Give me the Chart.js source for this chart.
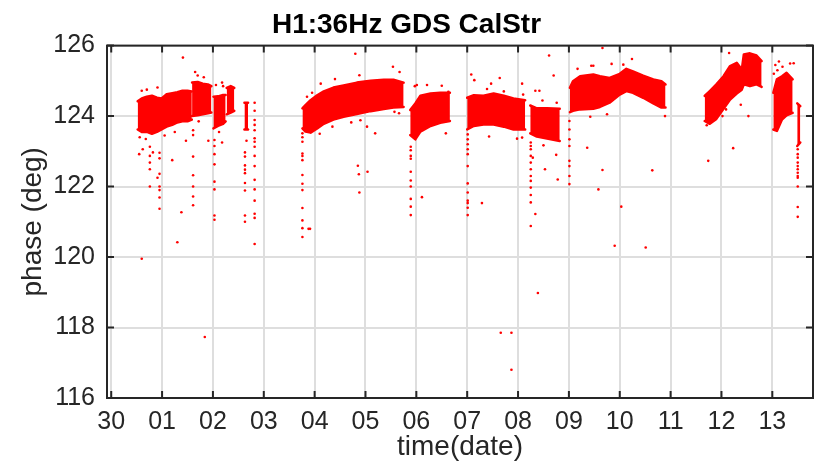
<!DOCTYPE html>
<html>
<head>
<meta charset="utf-8">
<title>H1:36Hz GDS CalStr</title>
<script src="https://cdn.jsdelivr.net/npm/chart.js@4.4.1/dist/chart.umd.min.js"></script>
<style>
  html, body { margin: 0; padding: 0; background: #fff; }
  #wrap { width: 817px; height: 466px; }
</style>
</head>
<body>
<div id="wrap"><canvas id="chart" width="817" height="466"></canvas></div>
<script>
// days counted from 30 Sep 00:00 (0 = "30", 1 = "01", ...)
const dayLabels = ['30', '01', '02', '03', '04', '05', '06', '07', '08', '09', '10', '11', '12', '13'];
const yTicks = [116, 118, 120, 122, 124, 126];

// dense stretches of data: [day, lower edge, upper edge] (deg)
const band1 = [[0.52, 123.62, 124.42], [0.60, 123.55, 124.50], [0.70, 123.55, 124.55], [0.80, 123.50, 124.58],
  [0.90, 123.55, 124.52], [0.99, 123.62, 124.50], [1.09, 123.70, 124.62], [1.20, 123.75, 124.65],
  [1.30, 123.82, 124.68], [1.40, 123.85, 124.72], [1.50, 123.85, 124.72], [1.585, 123.90, 124.70]];
const band2 = [[1.59, 124.00, 124.95], [1.70, 124.02, 124.97], [1.80, 124.05, 124.92], [1.90, 124.08, 124.90], [1.97, 124.10, 124.85]];
const band3 = [[2.01, 123.65, 124.55], [2.10, 123.72, 124.56], [2.20, 123.78, 124.60], [2.25, 123.85, 124.60]];
const band4 = [[2.27, 124.05, 124.80], [2.35, 124.10, 124.85], [2.42, 124.15, 124.80]];
const band5 = [[2.62, 123.62, 124.38], [2.69, 123.62, 124.38]];
const band7 = [[3.76, 123.65, 124.22], [3.82, 123.56, 124.31], [3.92, 123.53, 124.45], [4.05, 123.65, 124.59],
  [4.18, 123.78, 124.70], [4.37, 123.90, 124.81], [4.57, 123.98, 124.87], [4.83, 124.06, 124.95],
  [5.10, 124.14, 125.00], [5.36, 124.20, 125.03], [5.55, 124.24, 125.03], [5.75, 124.26, 124.95]];
const band8 = [[5.88, 123.46, 124.17], [5.98, 123.34, 124.36], [6.08, 123.56, 124.58], [6.28, 123.72, 124.64],
  [6.47, 123.81, 124.66], [6.66, 123.86, 124.66]];
const band9 = [[7.00, 123.62, 124.52], [7.13, 123.72, 124.59], [7.32, 123.76, 124.58], [7.52, 123.76, 124.64],
  [7.72, 123.70, 124.58], [7.91, 123.62, 124.50], [8.14, 123.62, 124.45]];
const band10 = [[8.24, 123.51, 124.30], [8.37, 123.42, 124.22], [8.57, 123.36, 124.22], [8.82, 123.29, 124.21]];
const band11 = [[9.02, 124.11, 124.80], [9.08, 124.15, 124.99], [9.22, 124.19, 125.13], [9.48, 124.21, 125.18],
  [9.61, 124.26, 125.13], [9.80, 124.38, 125.08], [10.00, 124.61, 125.20], [10.13, 124.71, 125.34],
  [10.26, 124.66, 125.27], [10.46, 124.52, 125.15], [10.66, 124.36, 125.04], [10.82, 124.24, 124.99], [10.90, 124.24, 124.90]];
const band12 = [[11.67, 123.86, 124.57], [11.77, 123.78, 124.71], [11.90, 123.92, 124.90], [12.04, 124.21, 125.13],
  [12.17, 124.47, 125.42], [12.30, 124.64, 125.51], [12.40, 124.75, 125.32], [12.44, 124.90, 125.75],
  [12.56, 124.85, 125.78], [12.69, 124.90, 125.72], [12.79, 124.83, 125.56]];
const band13 = [[13.02, 123.62, 124.66], [13.09, 123.58, 125.04], [13.19, 123.90, 125.13], [13.28, 124.02, 125.23], [13.40, 124.09, 125.04]];
const band14 = [[13.49, 123.15, 124.36], [13.55, 123.25, 124.28]];

// isolated samples: [day, phase]
const scatterA = [[0.60, 119.95], [0.55, 122.92], [0.62, 123.06], [0.76, 123.13], [0.76, 122.87], [0.76, 122.68],
  [0.76, 122.49], [0.76, 122.00], [0.82, 122.97], [0.91, 122.25], [0.95, 122.96], [0.95, 122.80], [0.95, 122.36],
  [0.95, 122.00], [0.95, 121.90], [0.95, 121.69], [0.95, 121.37], [1.20, 122.75], [1.38, 121.27], [1.30, 120.42],
  [1.41, 125.66], [1.47, 123.30], [1.61, 123.60], [1.61, 123.46], [1.61, 122.85], [1.61, 122.32], [1.61, 122.00],
  [1.61, 121.72], [1.61, 121.47], [1.84, 117.73], [1.91, 123.30], [2.03, 123.32], [2.03, 123.15], [2.03, 122.92],
  [2.03, 122.63], [2.03, 122.14], [2.03, 121.92], [2.03, 121.18], [2.03, 121.06], [2.18, 123.25], [2.06, 124.88],
  [2.18, 124.95], [2.63, 122.97], [2.63, 122.85], [2.63, 122.60], [2.63, 122.48], [2.63, 122.38], [2.63, 122.10],
  [2.63, 121.89], [2.63, 121.18], [2.63, 121.00], [2.66, 123.30], [2.82, 124.38], [2.82, 124.15], [2.82, 123.89],
  [2.82, 123.75], [2.82, 123.60], [2.82, 123.37], [2.82, 123.27], [2.82, 123.13], [2.82, 122.87], [2.82, 122.58],
  [2.82, 122.19], [2.82, 121.92], [2.82, 121.60], [2.82, 121.23], [2.82, 121.11], [2.82, 120.37], [0.60, 124.72],
  [0.70, 124.75], [0.91, 124.81], [1.65, 125.25], [1.70, 125.15], [1.82, 125.10], [2.20, 124.85],
  [0.56, 123.40], [0.68, 123.35], [1.05, 123.45], [1.25, 123.55], [1.72, 123.85], [2.12, 123.55]];
const scatterB = [[3.76, 123.51], [3.76, 123.40], [3.76, 123.27], [3.76, 122.94], [3.76, 122.87], [3.76, 122.75],
  [3.76, 122.33], [3.76, 122.08], [3.76, 121.90], [3.76, 121.39], [3.76, 121.04], [3.76, 120.82], [3.76, 120.57],
  [3.88, 120.80], [3.91, 120.80], [3.95, 124.66], [4.80, 125.77], [4.88, 125.16], [4.85, 122.59], [4.87, 122.35],
  [5.04, 122.42], [4.88, 121.83], [5.19, 123.51], [5.03, 123.70], [5.54, 125.40], [5.67, 125.25], [5.57, 124.12],
  [5.66, 124.08], [5.89, 123.13], [5.89, 123.03], [5.89, 122.87], [5.89, 122.79], [5.89, 122.42], [5.89, 122.17],
  [5.89, 122.00], [5.89, 121.65], [5.89, 121.43], [5.89, 121.19], [6.11, 121.70], [6.01, 124.88], [6.21, 124.88],
  [6.50, 124.86], [6.63, 124.69], [6.58, 123.51], [5.97, 124.85],
  [3.85, 124.55], [4.12, 124.92], [4.40, 125.05], [4.10, 123.50], [4.35, 123.70], [4.72, 123.82], [4.90, 123.88]];
const scatterC = [[7.01, 123.48], [7.01, 123.34], [7.01, 123.20], [7.01, 123.06], [7.01, 122.92], [7.01, 122.58],
  [7.01, 122.09], [7.01, 121.83], [7.01, 121.60], [7.01, 121.53], [7.01, 121.40], [7.01, 121.19], [7.29, 121.53],
  [7.08, 125.18], [7.14, 125.02], [7.39, 124.77], [7.47, 124.92], [7.64, 125.08], [7.72, 124.70], [8.08, 124.92],
  [8.10, 124.61], [7.98, 123.36], [8.08, 123.39], [7.43, 123.42], [7.66, 117.85], [7.87, 117.85], [7.87, 116.80],
  [8.25, 123.25], [8.25, 123.15], [8.25, 123.06], [8.25, 122.87], [8.25, 122.68], [8.25, 122.49], [8.25, 122.30],
  [8.25, 122.16], [8.25, 121.97], [8.25, 121.76], [8.25, 121.55], [8.25, 120.88], [8.34, 121.22], [8.29, 122.82],
  [8.53, 122.49], [8.78, 122.20], [8.75, 122.90], [8.34, 124.72], [8.42, 124.72], [8.48, 124.44], [8.61, 125.72],
  [8.70, 125.15], [8.76, 124.38], [8.50, 123.17], [8.39, 118.98]];
const scatterD = [[9.01, 123.86], [9.01, 123.62], [9.01, 123.34], [9.01, 123.15], [9.01, 122.73], [9.01, 122.58],
  [9.01, 122.30], [9.01, 122.07], [9.17, 125.34], [9.48, 125.43], [9.66, 125.93], [9.44, 125.43], [9.84, 125.48],
  [10.07, 125.46], [10.24, 125.62], [9.66, 122.47], [9.58, 121.92], [10.03, 121.43], [9.90, 120.32], [10.51, 120.27],
  [10.64, 122.46], [10.89, 124.00], [9.42, 123.98], [9.36, 123.10], [9.75, 124.05], [11.74, 122.73], [12.23, 123.09],
  [12.15, 125.79], [12.53, 124.00], [12.38, 124.32], [12.02, 124.00], [11.71, 123.74], [12.09, 124.19],
  [13.06, 125.45], [13.13, 125.55], [13.20, 125.40], [13.35, 125.49], [13.42, 125.50], [13.10, 125.30], [13.03, 125.20],
  [13.50, 123.06], [13.50, 122.92], [13.50, 122.82], [13.50, 122.68], [13.50, 122.58], [13.50, 122.49], [13.50, 122.39],
  [13.50, 122.30], [13.50, 122.25], [13.50, 122.00], [13.50, 121.42], [13.50, 121.14]];

const RED = '#ff0000';
const AXIS = '#262626';
Chart.defaults.font.family = "'Liberation Sans', Helvetica, Arial, sans-serif";

const bands = [band1, band2, band3, band4, band5, band7, band8, band9, band10, band11, band12, band13, band14];
const scatters = [scatterA, scatterB, scatterC, scatterD];

const datasets = [];
bands.forEach(b => {
  // lower edge, then upper edge filled down to it
  datasets.push({
    data: b.map(r => ({ x: r[0], y: r[1] })),
    showLine: true, pointRadius: 0, borderColor: RED, borderWidth: 2.5,
    borderJoinStyle: 'round', borderCapStyle: 'round', fill: false
  });
  datasets.push({
    data: b.map(r => ({ x: r[0], y: r[2] })),
    showLine: true, pointRadius: 0, borderColor: RED, borderWidth: 2.5,
    borderJoinStyle: 'round', borderCapStyle: 'round',
    backgroundColor: RED, fill: '-1'
  });
});
scatters.forEach(s => {
  datasets.push({
    data: s.map(r => ({ x: r[0], y: r[1] })),
    showLine: false, pointRadius: 1.3, pointBackgroundColor: RED, pointBorderWidth: 0
  });
});

// frame round the plot with ticks pointing inward, like the original figure
const framePlugin = {
  id: 'frame',
  afterDraw(chart) {
    const { ctx, chartArea: a, scales } = chart;
    const len = 7;
    ctx.save();
    ctx.strokeStyle = AXIS;
    ctx.lineWidth = 2;
    ctx.strokeRect(a.left, a.top, a.right - a.left, a.bottom - a.top);
    ctx.beginPath();
    dayLabels.forEach((l, i) => {
      const px = scales.x.getPixelForValue(i);
      ctx.moveTo(px, a.bottom); ctx.lineTo(px, a.bottom - len);
      ctx.moveTo(px, a.top); ctx.lineTo(px, a.top + len);
    });
    yTicks.forEach(v => {
      const py = scales.y.getPixelForValue(v);
      ctx.moveTo(a.left, py); ctx.lineTo(a.left + len, py);
      ctx.moveTo(a.right, py); ctx.lineTo(a.right - len, py);
    });
    ctx.stroke();
    ctx.restore();
  }
};

new Chart(document.getElementById('chart'), {
  type: 'scatter',
  data: { datasets: datasets },
  plugins: [framePlugin],
  options: {
    responsive: false,
    animation: false,
    layout: { padding: { left: 0, right: 4, top: 0, bottom: 0 } },
    plugins: {
      legend: { display: false },
      tooltip: { enabled: false },
      title: {
        display: true,
        text: 'H1:36Hz GDS CalStr',
        color: '#000',
        font: { size: 28, weight: 'bold' },
        padding: { top: 8, bottom: 4 }
      }
    },
    scales: {
      x: {
        type: 'linear',
        min: -0.083,
        max: 13.8,
        afterFit(scale) { scale.height = 68; },
        grid: { color: '#dedede', lineWidth: 2, drawTicks: false },
        border: { display: false },
        ticks: {
          stepSize: 1,
          includeBounds: false,
          padding: 9,
          color: AXIS,
          font: { size: 25 },
          maxRotation: 0,
          autoSkip: false,
          callback: v => (Number.isInteger(v) && dayLabels[v] !== undefined) ? dayLabels[v] : ''
        },
        title: { display: true, text: 'time(date)', color: AXIS, font: { size: 28 }, padding: { top: 0, bottom: 2 } }
      },
      y: {
        min: yTicks[0],
        max: yTicks[yTicks.length - 1],
        afterFit(scale) { scale.width = 107; },
        grid: { color: '#dedede', lineWidth: 2, drawTicks: false },
        border: { display: false },
        ticks: { stepSize: 2, padding: 12, color: AXIS, font: { size: 25 } },
        title: { display: true, text: 'phase (deg)', color: AXIS, font: { size: 28 }, padding: { top: 16, bottom: 0 } }
      }
    }
  }
});
</script>
</body>
</html>
